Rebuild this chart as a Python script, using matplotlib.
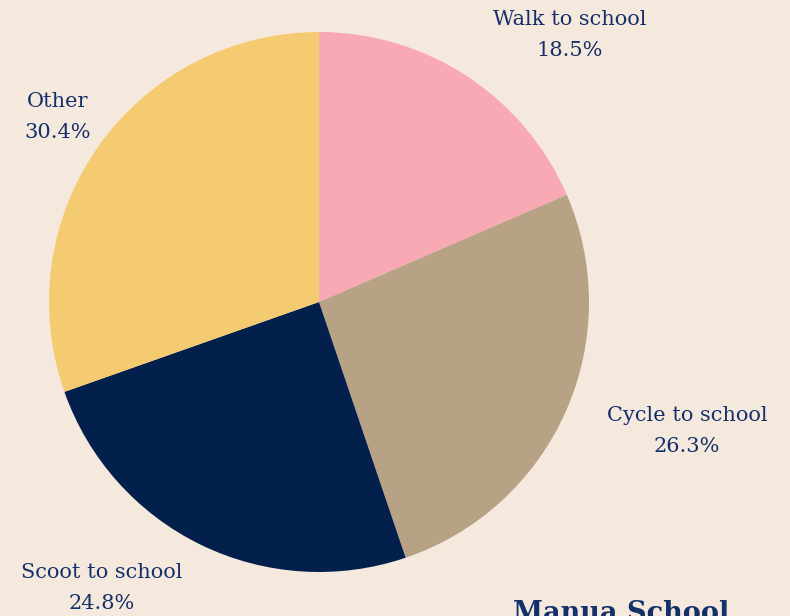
import matplotlib
matplotlib.use('Agg')
import matplotlib.pyplot as plt

labels = ['Walk to school', 'Cycle to school', 'Scoot to school', 'Other']
shares = [18.5, 26.3, 24.8, 30.4]
colors = ['#F9A9B3', '#B8A286', '#03204C', '#F5CB72']

bg = '#F5E8DD'
ink = '#14306A'

# pixel layout of the reference: pie centre and radius
W, H = 790, 616
cx, cy, r = 319, 302, 270

fig = plt.figure(figsize=(W / 100, H / 100), dpi=100, facecolor=bg)
ax = fig.add_axes([0, 0, 1, 1])
ax.set_facecolor(bg)
ax.axis('off')

ax.pie(shares, colors=colors, startangle=90, counterclock=False, radius=1,
       wedgeprops=dict(linewidth=0))
ax.set_aspect('auto')
ax.set_xlim(-cx / r, (W - cx) / r)
ax.set_ylim(-(H - cy) / r, cy / r)

# label anchors (pixels in the reference)
label_px = [(570, 35), (687, 431), (102, 588), (58, 117)]
for name, val, (px, py) in zip(labels, shares, label_px):
    ax.text((px - cx) / r, (cy - py) / r, '%s\n%.1f%%' % (name, val),
            ha='center', va='center', color=ink, family='DejaVu Serif',
            fontsize=15, linespacing=1.75)

# title sits partly below the bottom edge, as in the reference
ax.text((513 - cx) / r, (cy - 600) / r, 'Manua School', ha='left', va='top',
        color=ink, family='DejaVu Serif', fontsize=19.5, fontweight='bold')

fig.savefig('out.png', dpi=100, facecolor=bg)
